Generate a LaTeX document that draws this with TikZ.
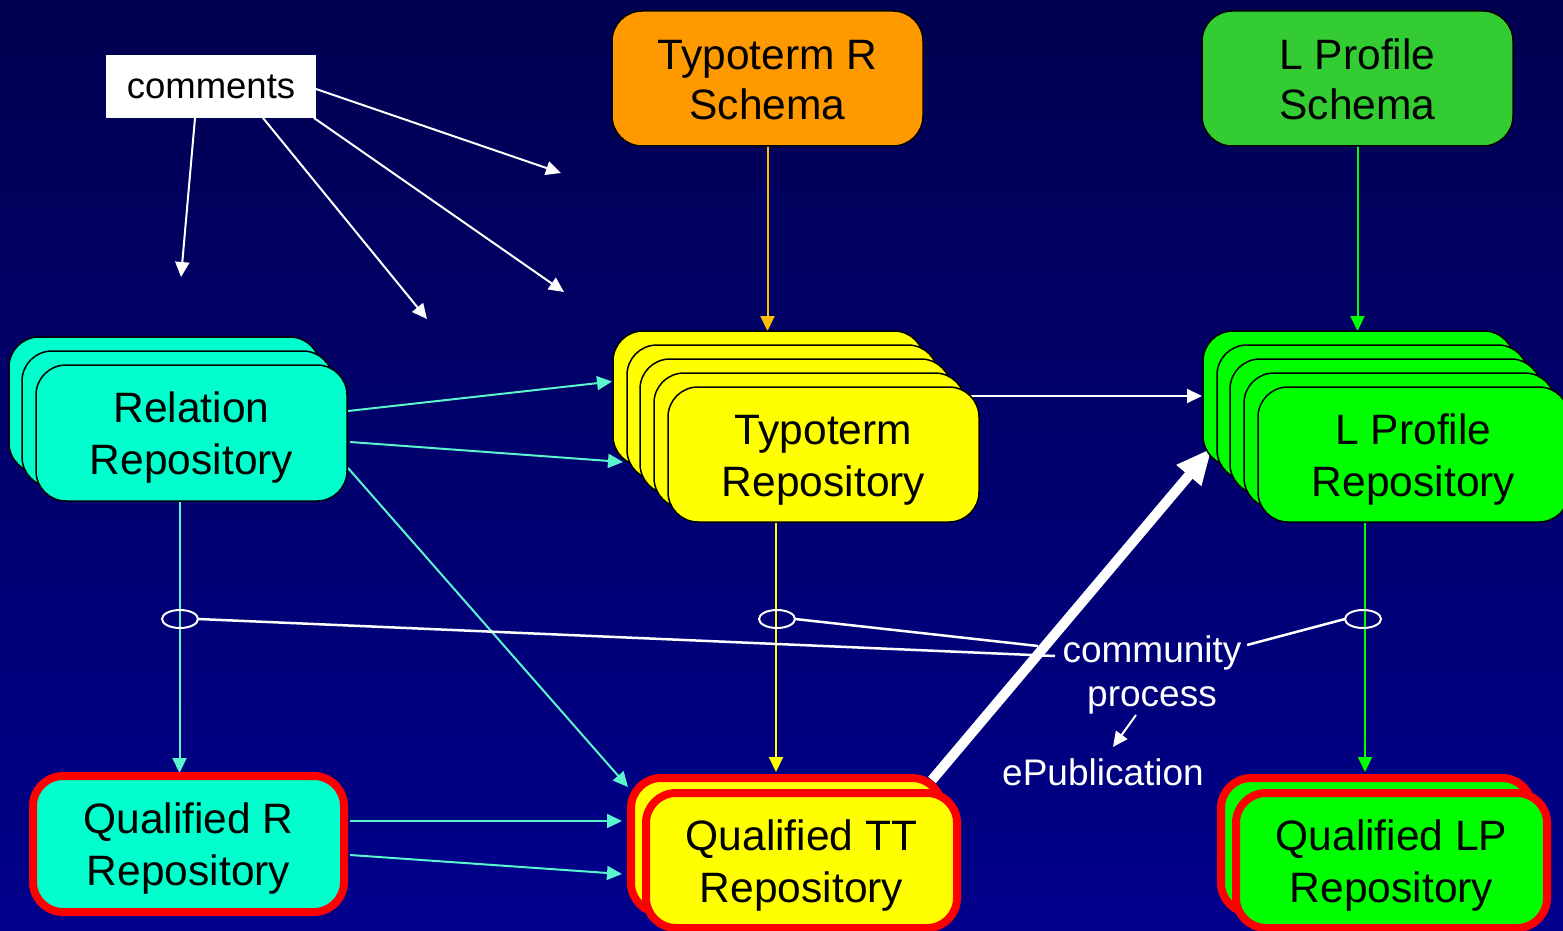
\documentclass[tikz,border=0pt]{standalone}
\usepackage{fontspec}
\setmainfont{Liberation Sans}
\usetikzlibrary{arrows.meta,shapes.geometric,calc}
\pgfdeclarelayer{back}
\pgfsetlayers{back,main}
\definecolor{bgtop}{RGB}{0,0,80}
\definecolor{bgbot}{RGB}{0,0,140}
\definecolor{aqua}{RGB}{0,255,204}
\definecolor{aqline}{RGB}{90,245,205}
\definecolor{yel}{RGB}{255,255,0}
\definecolor{grn}{RGB}{0,255,0}
\definecolor{schgrn}{RGB}{51,204,51}
\definecolor{orn}{RGB}{255,153,0}
\definecolor{ornline}{RGB}{255,190,0}
\definecolor{qred}{RGB}{255,0,0}
\newcommand\boxfont{\fontsize{42.5}{52}\selectfont}
\newcommand\schfont{\fontsize{42.5}{50}\selectfont}
\newcommand\cmfont{\fontsize{36.5}{42}\selectfont}
\newcommand\cpfont{\fontsize{37}{44}\selectfont}
\tikzset{
  box/.style={rounded corners=30pt, minimum width=311pt, minimum height=135pt,
    inner sep=0pt, outer sep=0pt, align=center, font=\boxfont, text=black,
    anchor=north west, text height=92pt},
  plain/.style={box, draw=black, line width=1.5pt},
  schema/.style={plain, font=\schfont, text height=83pt},
  qual/.style={box, draw=qred, line width=8pt},
  arr/.style={-{Triangle[length=15pt,width=14pt]}, line width=2pt},
  wtext/.style={text=white, inner sep=0pt},
  ring/.style={ellipse, draw=white, line width=2pt, minimum width=36pt, minimum height=18pt, inner sep=0pt, outer sep=0pt}
}
\begin{document}
\begin{tikzpicture}[x=1pt,y=-1pt]
\useasboundingbox (0,0) rectangle (1563,931);
\begin{pgfonlayer}{back}
\shade[top color=bgtop,bottom color=bgbot] (0,0) rectangle (1563,931);
\end{pgfonlayer}

% schemas
\node[schema, fill=orn] (schT) at (612,11) {Typoterm R\\Schema};
\node[schema, fill=schgrn] (schL) at (1202,11) {L Profile\\Schema};

% relation repository stack
\node[plain, fill=aqua, minimum height=136pt] (rel1) at (9,337) {};
\node[plain, fill=aqua, minimum height=136pt] (rel2) at (22,351) {};
\node[plain, fill=aqua, minimum height=136pt] (rel3) at (36,365) {Relation\\Repository};

% typoterm repository stack
\node[plain, fill=yel] (typ1) at (613,331) {};
\node[plain, fill=yel] (typ2) at (627,345) {};
\node[plain, fill=yel] (typ3) at (640,359) {};
\node[plain, fill=yel] (typ4) at (654,373) {};
\node[plain, fill=yel] (typ5) at (668,387) {Typoterm\\Repository};

% L profile repository stack
\node[plain, fill=grn] (lp1) at (1203,331) {};
\node[plain, fill=grn] (lp2) at (1217,345) {};
\node[plain, fill=grn] (lp3) at (1230,359) {};
\node[plain, fill=grn] (lp4) at (1244,373) {};
\node[plain, fill=grn] (lp5) at (1258,387) {L Profile\\Repository};

% qualified
\node[qual, fill=aqua, minimum height=136pt] (qr) at (33,776) {Qualified R\\Repository};
\node[qual, fill=yel] (qtt1) at (631,778) {};
\node[qual, fill=yel] (qtt2) at (646,793) {Qualified TT\\Repository};
\node[qual, fill=grn] (qlp1) at (1221,778) {};
\node[qual, fill=grn] (qlp2) at (1236,793) {Qualified LP\\Repository};

% comments
\node[fill=white, minimum width=210pt, minimum height=63pt, inner sep=0pt, outer sep=0pt, font=\cmfont] (cm) at (211,86.5) {comments};
\coordinate (k1) at (181,277);
\coordinate (k2) at (427,319);
\coordinate (k3) at (564,292);
\coordinate (k4) at (561,173);

% community process
\node[wtext, font=\cpfont, align=center] (cp) at (1152,675) {community\\process};
\node[wtext, font=\cpfont] (ep) at (1103,772) {ePublication};
\coordinate (c1) at (1055,656);
\coordinate (c2) at (1038,646);
\coordinate (c3) at (1247,645);
\coordinate (a1) at (1136,715);
\coordinate (a2) at (1113,747);

% rings
\node[ring] (e1) at (180,619) {};
\node[ring] (e2) at (777,619) {};
\node[ring] (e3) at (1363,619) {};

\begin{pgfonlayer}{back}
\draw[arr, draw=ornline] (schT.south) -- (schT.south |- typ1.north);
\draw[arr, draw=grn] (schL.south) -- (schL.south |- lp1.north);
\draw[arr, draw=aqline] ($(rel3.east)+(1,-22)$) -- ($(typ1.west)+(-1,-17)$);
\draw[arr, draw=aqline] ($(rel3.east)+(3,9)$) -- ($(typ2.west)+(-4,49.5)$);
\draw[arr, draw=aqline] ($(rel3.east)+(1,35)$) -- ($(qtt1.north west)+(-3,9)$);
\draw[arr, draw=aqline] ($(rel3.south)+(-12,0)$) -- ($(qr.north)+(-9,-3)$);
\draw[arr, draw=yel] ($(typ5.south)+(-47.5,0)$) -- ($(qtt1.north)+(-10.5,-6)$);
\draw[arr, draw=grn] ($(lp5.south)+(-48.5,0)$) -- ($(qlp1.north)+(-11.5,-6)$);
\draw[arr, draw=white] ($(typ5.north east)+(-9,9)$) -- ($(lp1.west)+(-1,-2.5)$);
\draw[-{Triangle[length=36pt,width=30pt]}, line width=10pt, draw=white]
  ($(qtt1.north east)+(-10,2)$) -- ($(lp1.south west)+(9,-18)$);
\draw[arr, draw=aqline] ($(qr.east)+(6,-23)$) -- ($(qtt1.west)+(-9,-24.5)$);
\draw[arr, draw=aqline] ($(qr.east)+(6,11)$) -- ($(qtt1.west)+(-9,28.5)$);
\draw[arr, draw=white] ($(cm.south)+(-16,0)$) -- (k1);
\draw[arr, draw=white] ($(cm.south)+(52,0)$) -- (k2);
\draw[arr, draw=white] ($(cm.south east)+(-2,0)$) -- (k3);
\draw[arr, draw=white] ($(cm.east)+(0,2.5)$) -- (k4);
\draw[white, line width=2.5pt] (e1.east) -- (c1);
\draw[white, line width=2.5pt] (e2.east) -- (c2);
\draw[white, line width=2.5pt] (c3) -- (e3.west);
\draw[arr, draw=white] (a1) -- (a2);
\end{pgfonlayer}
\end{tikzpicture}
\end{document}
